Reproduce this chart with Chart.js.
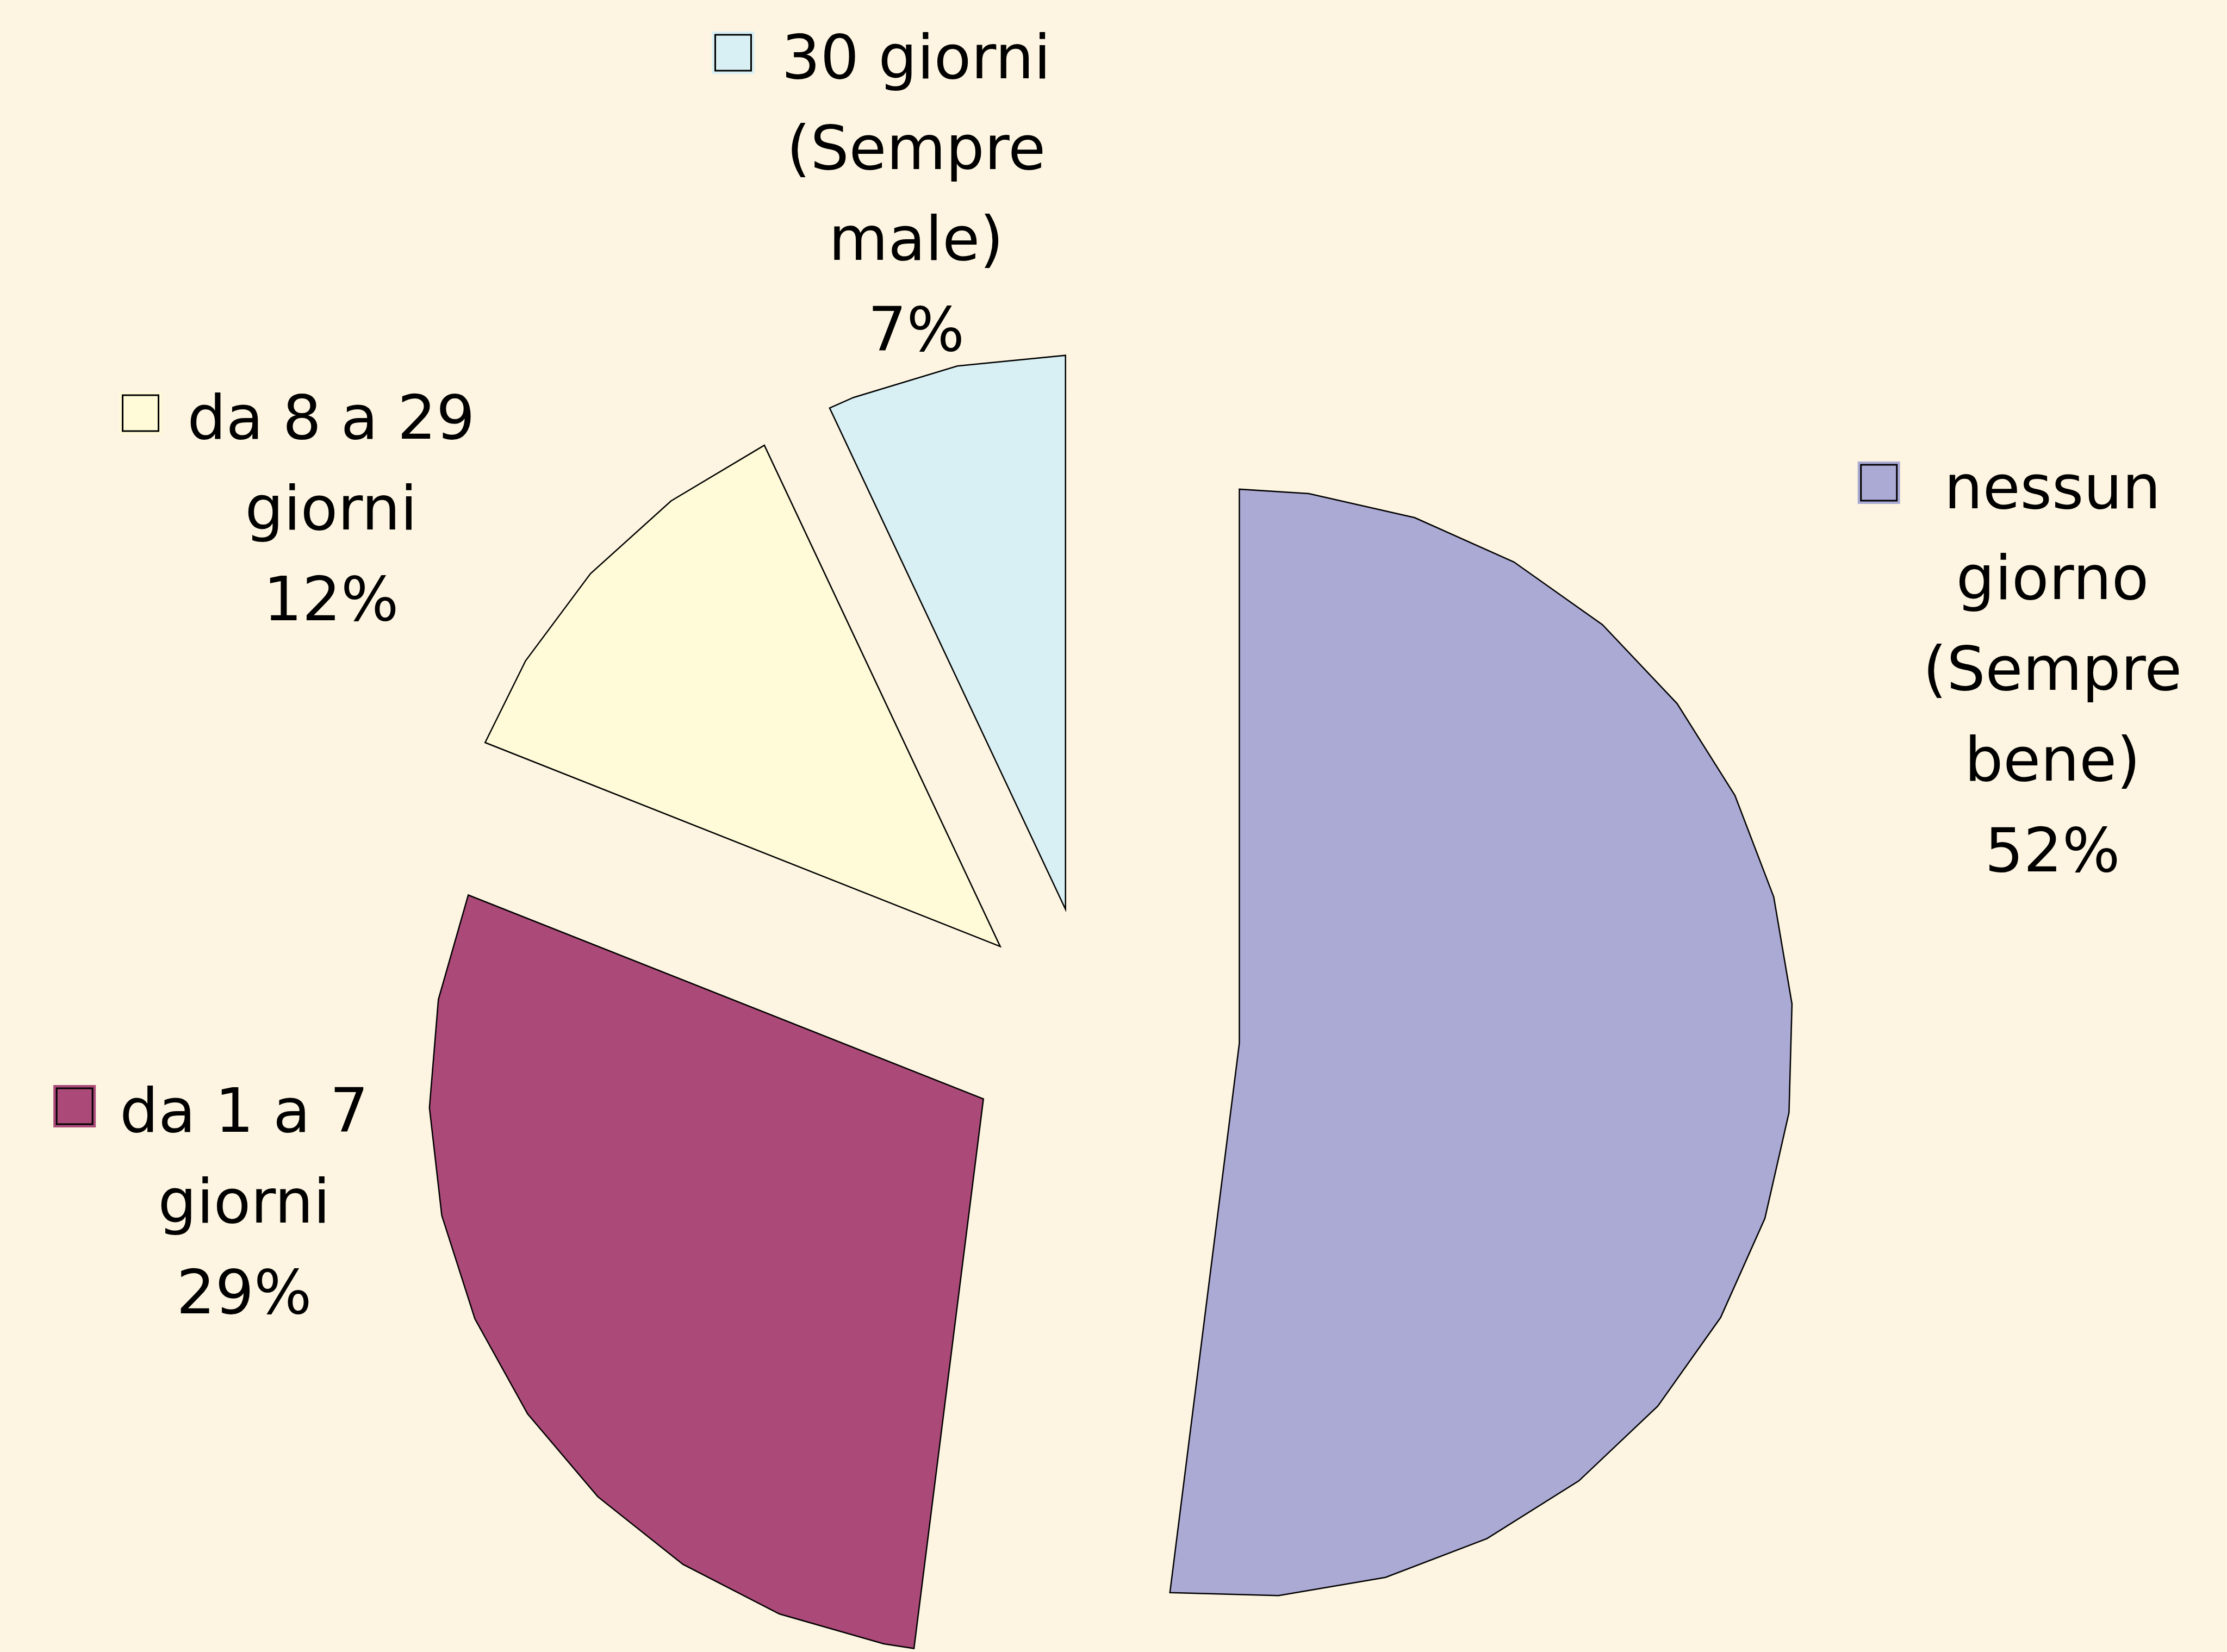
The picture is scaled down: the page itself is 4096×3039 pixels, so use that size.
<!DOCTYPE html>
<html>
<head>
<meta charset="utf-8">
<script src="https://cdn.jsdelivr.net/npm/chart.js@4.4.0/dist/chart.umd.min.js"></script>
<style>
  html, body { margin: 0; padding: 0; background: #fdf5e1; overflow: hidden; }
  #wrap { width: 4096px; height: 3039px; position: relative; }
</style>
</head>
<body>
<div id="wrap"><canvas id="pie"></canvas></div>
<script>
// categories, wrapped the way they print beside each slice
const categories = [
  ["nessun", "giorno", "(Sempre", "bene)"],
  ["da 1 a 7", "giorni"],
  ["da 8 a 29", "giorni"],
  ["30 giorni", "(Sempre", "male)"]
];
const shares = [52, 29, 12, 7];
const sliceColors = ["#abaad5", "#ab4a78", "#fffbd8", "#d8f0f4"];

// where each label block sits: centre x, first baseline, gap before the key box
const labelSpots = [
  { x: 3775, y: 935, gap: 81 },
  { x: 449, y: 2082, gap: 44 },
  { x: 609, y: 807, gap: 47 },
  { x: 1685, y: 144, gap: 50 }
];

const FONT = "112px 'DejaVu Sans'";
const LINE_H = 167;
const FACET = Math.PI * 2 / 32;   // pie outline is drawn as a 32-gon

// draw the slices as flat-sided wedges, using the arc geometry chart.js worked out
const facetedSlices = {
  id: "facetedSlices",
  beforeDatasetsDraw(chart) {
    const ctx = chart.ctx;
    const meta = chart.getDatasetMeta(0);
    ctx.save();
    ctx.lineJoin = "miter";
    meta.data.forEach((arc) => {
      const p = arc.getProps(["x", "y", "startAngle", "endAngle", "outerRadius"], true);
      const o = arc.options;
      const mid = (p.startAngle + p.endAngle) / 2;
      const cx = p.x + Math.cos(mid) * o.offset;
      const cy = p.y + Math.sin(mid) * o.offset;
      const r = p.outerRadius;

      const steps = [];
      for (let a = p.endAngle - FACET; a > p.startAngle + 1e-6; a -= FACET) steps.push(a);
      steps.reverse();

      ctx.beginPath();
      ctx.moveTo(cx, cy);
      ctx.lineTo(cx + r * Math.cos(p.startAngle), cy + r * Math.sin(p.startAngle));
      steps.forEach(a => ctx.lineTo(cx + r * Math.cos(a), cy + r * Math.sin(a)));
      ctx.lineTo(cx + r * Math.cos(p.endAngle), cy + r * Math.sin(p.endAngle));
      ctx.closePath();
      ctx.fillStyle = o.backgroundColor;
      ctx.fill();
      ctx.lineWidth = o.borderWidth;
      ctx.strokeStyle = o.borderColor;
      ctx.stroke();
    });
    ctx.restore();
    return false;
  }
};

// data labels with a key box, e.g. "■ 30 giorni (Sempre male) 7%"
const sliceLabels = {
  id: "sliceLabels",
  afterDraw(chart) {
    const ctx = chart.ctx;
    const ds = chart.data.datasets[0];
    ctx.save();
    ctx.font = FONT;
    ctx.fillStyle = "#000";
    ctx.textAlign = "center";
    ctx.textBaseline = "alphabetic";

    chart.data.labels.forEach((lines, i) => {
      const spot = labelSpots[i];
      const all = lines.concat([ds.data[i] + "%"]);
      all.forEach((t, k) => ctx.fillText(t, spot.x, spot.y + k * LINE_H));

      const w = ctx.measureText(all[0]).width;
      const size = 78;
      const bx = spot.x - w / 2 - spot.gap - size;
      const by = spot.y - 8 - size;
      ctx.fillStyle = ds.backgroundColor[i];
      ctx.fillRect(bx, by, size, size);
      ctx.lineWidth = 3;
      ctx.strokeStyle = "#000";
      ctx.strokeRect(bx + 6, by + 6, size - 12, size - 12);
      ctx.fillStyle = "#000";
    });
    ctx.restore();
  }
};

new Chart(document.getElementById("pie"), {
  type: "pie",
  data: {
    labels: categories,
    datasets: [{
      data: shares,
      backgroundColor: sliceColors,
      borderColor: "#000",
      borderWidth: 2.5,
      offset: [269, 235, 235, 235]
    }]
  },
  options: {
    responsive: true,
    maintainAspectRatio: false,
    animation: false,
    events: [],
    radius: 1019,
    layout: { padding: { left: 0, right: 74, top: 765, bottom: 0 } },
    plugins: {
      legend: { display: false },
      tooltip: { enabled: false }
    }
  },
  plugins: [facetedSlices, sliceLabels]
});
</script>
</body>
</html>
